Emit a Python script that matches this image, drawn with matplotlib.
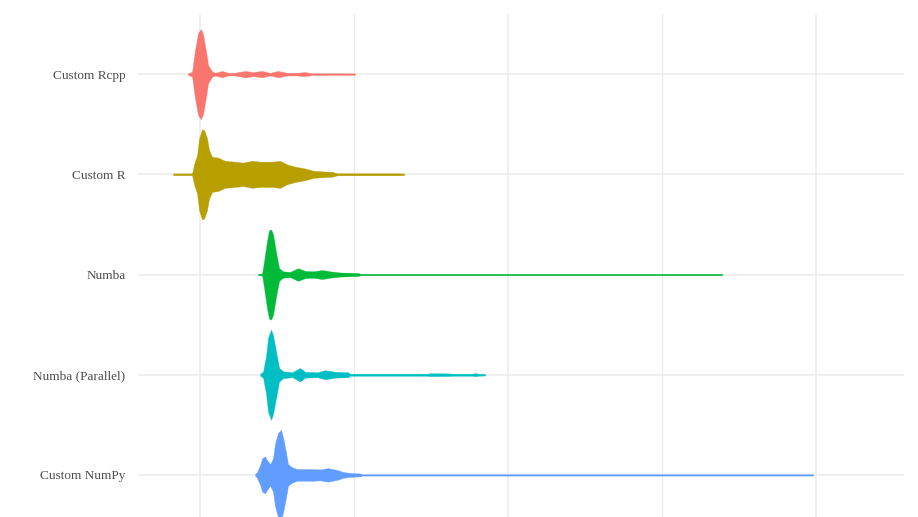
import numpy as np
import matplotlib
matplotlib.use("Agg")
import matplotlib.pyplot as plt

# categories, top to bottom
methods = ["Custom Rcpp", "Custom R", "Numba", "Numba (Parallel)", "Custom NumPy"]
colors = ["#F8766D", "#B79F00", "#00BA38", "#00BFC4", "#619CFF"]

# density profiles (x in axis units, density scaled to peak = 1)
rcpp_x = [-0.078, -0.052, -0.032, -0.013, 0.006, 0.019, 0.039, 0.052, 0.078, 0.097,
          0.143, 0.182, 0.227, 0.292, 0.344, 0.403, 0.455, 0.506, 0.565, 0.630,
          0.682, 0.727, 0.844, 1.006]
rcpp_d = [0.02, 0.05, 0.55, 0.91, 1.0, 0.89, 0.50, 0.20, 0.06, 0.03,
          0.07, 0.03, 0.03, 0.07, 0.045, 0.07, 0.03, 0.07, 0.03, 0.03,
          0.045, 0.02, 0.018, 0.016]

r_x = [-0.175, -0.097, -0.052, -0.039, -0.019, -0.006, 0.013, 0.026, 0.045, 0.058,
       0.078, 0.117, 0.162, 0.227, 0.279, 0.338, 0.390, 0.468, 0.519, 0.565,
       0.617, 0.682, 0.734, 0.792, 0.857, 0.890, 1.071, 1.286, 1.325]
r_d = [0.02, 0.02, 0.02, 0.22, 0.43, 0.80, 1.0, 0.98, 0.80, 0.54,
       0.39, 0.37, 0.30, 0.28, 0.26, 0.30, 0.28, 0.28, 0.30, 0.22,
       0.17, 0.13, 0.08, 0.065, 0.055, 0.022, 0.022, 0.022, 0.018]

numba_x = [0.377, 0.403, 0.416, 0.435, 0.448, 0.461, 0.474, 0.494, 0.513, 0.539,
           0.584, 0.636, 0.682, 0.734, 0.792, 0.844, 0.909, 1.026, 1.039, 3.390]
numba_d = [0.016, 0.023, 0.30, 0.75, 0.98, 1.0, 0.89, 0.48, 0.14, 0.07,
           0.057, 0.14, 0.08, 0.07, 0.10, 0.07, 0.045, 0.034, 0.016, 0.016]

par_x = [0.390, 0.409, 0.429, 0.442, 0.461, 0.474, 0.494, 0.513, 0.539, 0.597,
         0.649, 0.682, 0.760, 0.812, 0.877, 0.961, 0.974, 1.474, 1.494, 1.623,
         1.636, 1.766, 1.786, 1.805, 1.851]
par_d = [0.022, 0.065, 0.43, 0.83, 1.0, 0.87, 0.50, 0.15, 0.076, 0.054,
         0.15, 0.065, 0.054, 0.10, 0.065, 0.054, 0.022, 0.022, 0.033, 0.028,
         0.022, 0.022, 0.035, 0.022, 0.018]

numpy_x = [0.357, 0.370, 0.390, 0.403, 0.422, 0.435, 0.455, 0.474, 0.487, 0.506,
           0.526, 0.539, 0.558, 0.571, 0.597, 0.630, 0.669, 0.727, 0.779, 0.831,
           0.890, 0.929, 0.974, 1.039, 1.052, 3.981]
numpy_d = [0.015, 0.065, 0.22, 0.37, 0.41, 0.33, 0.24, 0.37, 0.70, 0.93,
           1.0, 0.83, 0.50, 0.24, 0.17, 0.13, 0.13, 0.13, 0.12, 0.15,
           0.11, 0.065, 0.043, 0.033, 0.015, 0.015]

profiles = [(rcpp_x, rcpp_d), (r_x, r_d), (numba_x, numba_d),
            (par_x, par_d), (numpy_x, numpy_d)]

fig = plt.figure(figsize=(9.18, 5.17), dpi=100)
ax = fig.add_axes([138 / 918, 0.0, (904 - 138) / 918, 1 - 14 / 517])

half = 0.45  # violin width 0.9
for i, ((xs, ds), col) in enumerate(zip(profiles, colors)):
    xs = np.array(xs)
    w = np.array(ds) * half
    ax.fill_between(xs, i - w, i + w, color=col, linewidth=0.25, edgecolor=col, zorder=3)

ax.set_xlim(-0.403, 4.571)
ax.set_ylim(4.42, -0.6)

ax.set_xticks([0, 2, 4])
ax.set_xticks([1, 3], minor=True)
ax.set_yticks(range(len(methods)))
ax.set_yticklabels(methods, family="Liberation Serif", fontsize=9.5, color="#4D4D4D")
ax.tick_params(axis="x", which="both", length=0, labelbottom=False)
ax.tick_params(axis="y", length=0, pad=9)

ax.grid(True, which="major", color="#EBEBEB", linewidth=1.1, zorder=0)
ax.grid(True, which="minor", axis="x", color="#EBEBEB", linewidth=0.9, zorder=0)
ax.set_axisbelow(True)
for s in ax.spines.values():
    s.set_visible(False)

fig.savefig("out.png", dpi=100)
